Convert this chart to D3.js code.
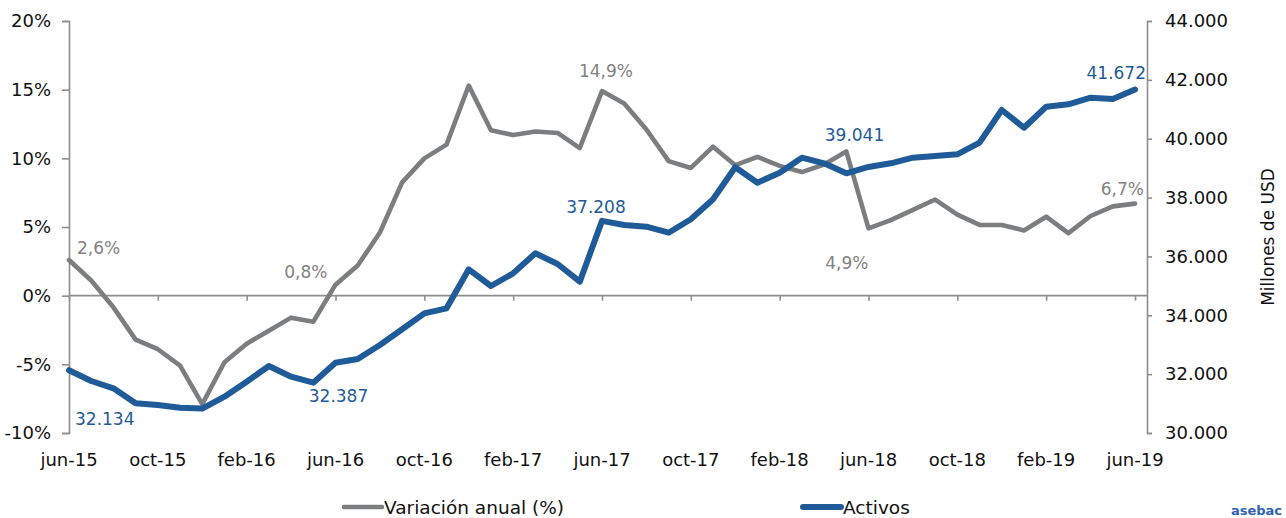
<!DOCTYPE html>
<html lang="es">
<head>
<meta charset="utf-8">
<script src="https://cdn.jsdelivr.net/npm/d3@7/dist/d3.min.js"></script>
<style>
  html, body { margin: 0; padding: 0; background: #fff; }
  svg { display: block; font-family: "DejaVu Sans", sans-serif; }
</style>
</head>
<body>
<div id="chart"></div>
<script>
// ---------------------------------------------------------------------------
// Datos
// ---------------------------------------------------------------------------
const months = [
    'jun-15', 'jul-15', 'ago-15', 'sep-15', 'oct-15', 'nov-15', 'dic-15',
    'ene-16', 'feb-16', 'mar-16', 'abr-16', 'may-16', 'jun-16', 'jul-16',
    'ago-16', 'sep-16', 'oct-16', 'nov-16', 'dic-16', 'ene-17', 'feb-17',
    'mar-17', 'abr-17', 'may-17', 'jun-17', 'jul-17', 'ago-17', 'sep-17',
    'oct-17', 'nov-17', 'dic-17', 'ene-18', 'feb-18', 'mar-18', 'abr-18',
    'may-18', 'jun-18', 'jul-18', 'ago-18', 'sep-18', 'oct-18', 'nov-18',
    'dic-18', 'ene-19', 'feb-19', 'mar-19', 'abr-19', 'may-19', 'jun-19'
];

// Variación anual (%) — eje izquierdo
const variacion = [
    2.6, 1.1, -0.85, -3.2, -3.9, -5.1, -7.9,
    -4.85, -3.5, -2.55, -1.6, -1.9, 0.8, 2.2,
    4.6, 8.25, 10.0, 11.0, 15.3, 12.05, 11.7,
    11.95, 11.85, 10.75, 14.9, 14.0, 12.1, 9.8,
    9.3, 10.85, 9.5, 10.1, 9.45, 9.0, 9.55,
    10.5, 4.9, 5.5, 6.25, 7.0, 5.9, 5.15,
    5.15, 4.75, 5.75, 4.55, 5.8, 6.5, 6.7
];

// Activos (millones de USD) — eje derecho
const activos = [
    32134, 31767, 31519, 31009, 30951, 30860, 30830,
    31234, 31743, 32277, 31913, 31709, 32387, 32515,
    32990, 33524, 34067, 34237, 35562, 34995, 35427,
    36106, 35743, 35141, 37208, 37068, 37010, 36806,
    37262, 37941, 39029, 38506, 38846, 39355, 39164,
    38825, 39041, 39164, 39355, 39413, 39470, 39865,
    40976, 40374, 41088, 41169, 41393, 41349, 41672
];

const leftTicks   = [-10, -5, 0, 5, 10, 15, 20];
const rightTicks  = [30000, 32000, 34000, 36000, 38000, 40000, 42000, 44000];
const xTickLabels = ['jun-15', 'oct-15', 'feb-16', 'jun-16', 'oct-16', 'feb-17', 'jun-17',
                     'oct-17', 'feb-18', 'jun-18', 'oct-18', 'feb-19', 'jun-19'];
const labelMonths = ['jun-15', 'jun-16', 'jun-17', 'jun-18', 'jun-19'];

// ---------------------------------------------------------------------------
// Dibujo
// ---------------------------------------------------------------------------
const W = 1286, H = 518;
const GRAY = '#7b7d7f', BLUE = '#1f5b98', AXIS = '#8e8e8e';

const es = d3.formatLocale({ decimal: ',', thousands: '.', grouping: [3], currency: ['', ''] });
const fmtPct = v => es.format('.1f')(v) + '%';
const fmtNum = es.format(',.0f');

const svg = d3.select('#chart').append('svg')
    .attr('width', W).attr('height', H)
    .attr('viewBox', `0 0 ${W} ${H}`);

const x  = d3.scalePoint().domain(months).range([69, 1135]);
const yL = d3.scaleLinear().domain([-10, 20]).range([433, 21]);
const yR = d3.scaleLinear().domain([30000, 44000]).range([433, 21]);

// Eje izquierdo
const axL = svg.append('g').attr('transform', 'translate(69,0)')
    .call(d3.axisLeft(yL).tickValues(leftTicks).tickSize(7).tickPadding(11)
        .tickFormat(d => d + '%'));
// Eje derecho
const axR = svg.append('g').attr('transform', 'translate(1147,0)')
    .call(d3.axisRight(yR).tickValues(rightTicks).tickSize(5).tickPadding(13)
        .tickFormat(fmtNum));
// Eje X sobre la línea del 0 %
const axX = svg.append('g').attr('transform', `translate(0,${yL(0)})`)
    .call(d3.axisBottom(x).tickValues(xTickLabels).tickSize(5)
        .tickFormat(() => ''));
axX.select('.domain').attr('d', `M69,0H1147`);

[axL, axR, axX].forEach(a => {
    a.select('.domain').attr('stroke', AXIS).attr('stroke-width', 1.6);
    a.selectAll('.tick line').attr('stroke', AXIS).attr('stroke-width', 1.6);
    a.selectAll('.tick text').attr('fill', '#111').attr('font-size', 18)
        .attr('font-family', '"DejaVu Sans", sans-serif');
});

// Etiquetas del eje X bajo el gráfico
svg.append('g').selectAll('text')
    .data(xTickLabels).join('text')
    .attr('x', d => x(d))
    .attr('y', 459)
    .attr('text-anchor', 'middle')
    .attr('dominant-baseline', 'central')
    .attr('font-size', 18)
    .attr('fill', '#111')
    .text(d => d);

// Título eje derecho
svg.append('text')
    .attr('transform', 'translate(1268,237) rotate(-90)')
    .attr('text-anchor', 'middle')
    .attr('dominant-baseline', 'central')
    .attr('font-size', 17)
    .attr('fill', '#111')
    .text('Millones de USD');

// Líneas
const lineL = d3.line().x((d, i) => x(months[i])).y(d => yL(d));
const lineR = d3.line().x((d, i) => x(months[i])).y(d => yR(d));

svg.append('path')
    .attr('d', lineL(variacion))
    .attr('fill', 'none')
    .attr('stroke', GRAY)
    .attr('stroke-width', 4.6)
    .attr('stroke-linejoin', 'round')
    .attr('stroke-linecap', 'round');

svg.append('path')
    .attr('d', lineR(activos))
    .attr('fill', 'none')
    .attr('stroke', BLUE)
    .attr('stroke-width', 6)
    .attr('stroke-linejoin', 'round')
    .attr('stroke-linecap', 'round');

// Etiquetas de datos — desplazamiento respecto al punto
const grayLabelPos = [
    { dx:   8, dy: -12, anchor: 'start'  },
    { dx:  -8, dy: -13, anchor: 'end'    },
    { dx:   4, dy: -20, anchor: 'middle' },
    { dx:   0, dy:  35, anchor: 'end'    },
    { dx:   9, dy: -15, anchor: 'end'    }
];
const blueLabelPos = [
    { dx:   6, dy:  49, anchor: 'start'  },
    { dx:   3, dy:  33, anchor: 'middle' },
    { dx:  -6, dy: -14, anchor: 'middle' },
    { dx: -14, dy: -32, anchor: 'middle' },
    { dx:  11, dy: -17, anchor: 'end'    }
];

labelMonths.forEach((m, k) => {
    const i = months.indexOf(m);
    const g = grayLabelPos[k], b = blueLabelPos[k];
    svg.append('text')
        .attr('x', x(m) + g.dx).attr('y', yL(variacion[i]) + g.dy)
        .attr('text-anchor', g.anchor).attr('dominant-baseline', 'central')
        .attr('font-size', 17).attr('fill', '#828282')
        .text(fmtPct(variacion[i]));
    svg.append('text')
        .attr('x', x(m) + b.dx).attr('y', yR(activos[i]) + b.dy)
        .attr('text-anchor', b.anchor).attr('dominant-baseline', 'central')
        .attr('font-size', 17).attr('fill', BLUE)
        .text(fmtNum(activos[i]));
});

// Leyenda
const legend = [
    { name: 'Variación anual (%)', color: GRAY, x: 342, w: 4.6 },
    { name: 'Activos',             color: BLUE, x: 801, w: 6 }
];
legend.forEach(l => {
    svg.append('line')
        .attr('x1', l.x + 2).attr('x2', l.x + 40)
        .attr('y1', 507).attr('y2', 507)
        .attr('stroke', l.color).attr('stroke-width', l.w)
        .attr('stroke-linecap', 'round');
    svg.append('text')
        .attr('x', l.x + 42).attr('y', 507)
        .attr('dominant-baseline', 'central')
        .attr('font-size', 18.5).attr('fill', '#111')
        .text(l.name);
});

// Marca de agua en la esquina
svg.append('text')
    .attr('x', 1282).attr('y', 515)
    .attr('text-anchor', 'end')
    .attr('font-size', 13).attr('font-weight', 'bold')
    .attr('fill', '#2f62b0')
    .text('asebac');
</script>
</body>
</html>
